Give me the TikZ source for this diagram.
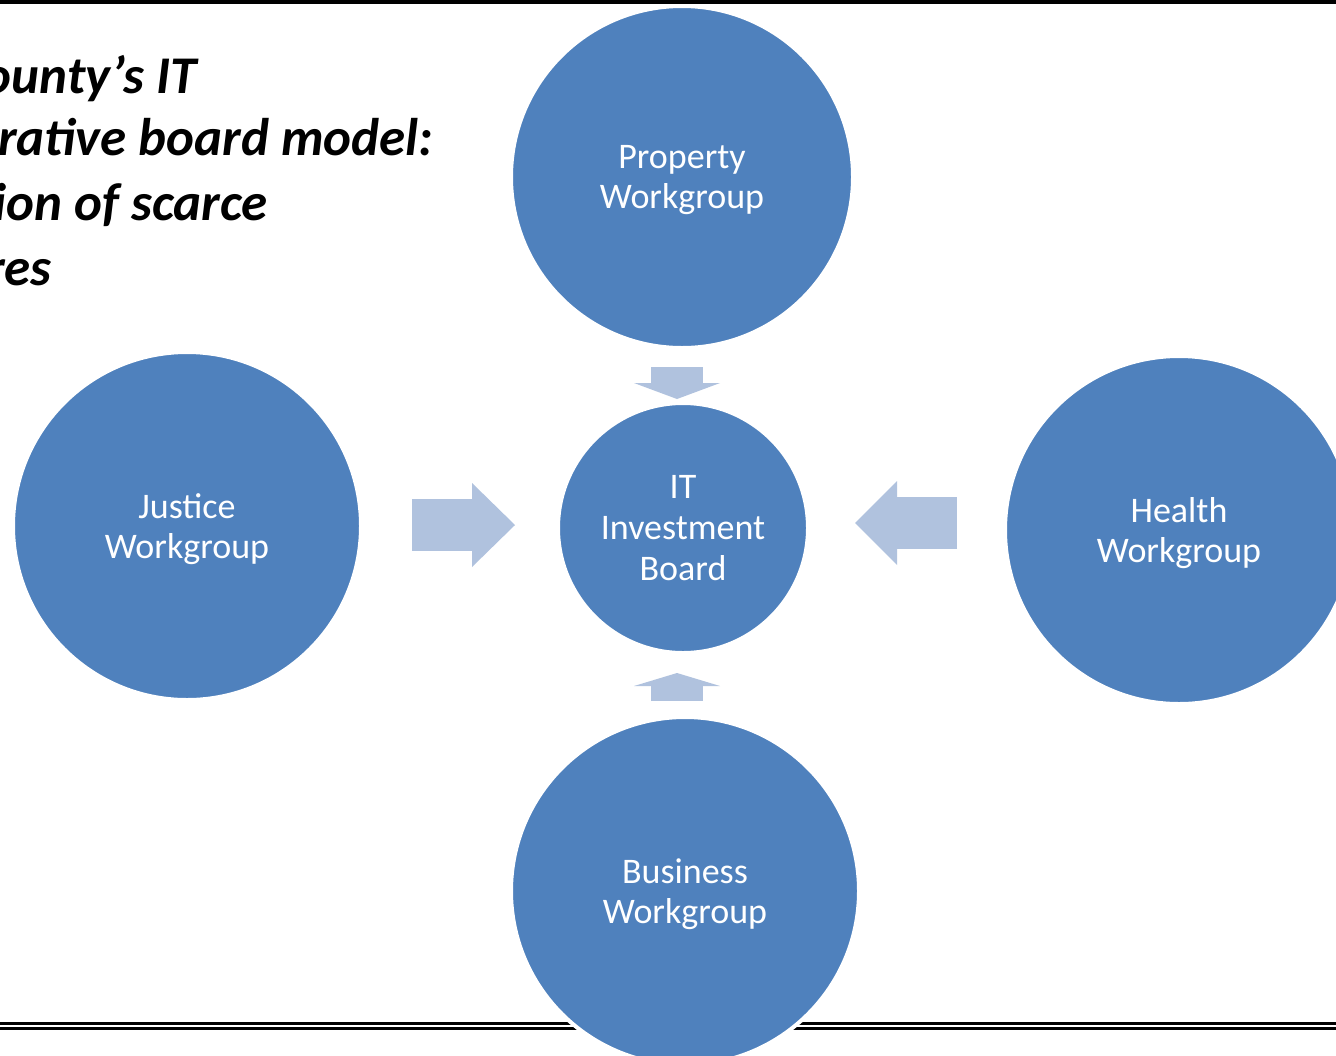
\documentclass[tikz,border=0pt]{standalone}
\usepackage{fontspec}
\setmainfont{Carlito}
\usepackage{xcolor}
\usetikzlibrary{arrows.meta}

\definecolor{wgblue}{RGB}{79,129,189}
\definecolor{arrowblue}{RGB}{176,194,222}

\begin{document}
\begin{tikzpicture}[x=0.5pt, y=-0.5pt,
    workgroup/.style={circle, fill=wgblue, draw=white, line width=2pt, outer sep=0pt, inner sep=0pt,
      text=white, align=center, text depth=0pt, font=\fontsize{18pt}{20.3pt}\selectfont},
    titleline/.style={anchor=base east, inner sep=0pt, font=\fontsize{26.5pt}{32pt}\selectfont\bfseries\itshape},
    bigarrow/.style={draw=arrowblue, line width=26pt}]
  \clip (0,0) rectangle (1336,1055);
  \fill[white] (0,0) rectangle (1336,1055);

  % Borders
  \draw[line width=2pt] (0,2) -- (1336,2);
  \draw[line width=1.25pt] (0,1023.5) -- (1336,1023.5);
  \draw[line width=1.25pt] (0,1028.5) -- (1336,1028.5);

  % Title
  \node[titleline] (title1) at (197,93) {ounty’s IT};
  \node[titleline] (title2) at (434,155) {rative board model:};
  \node[titleline] (title3) at (268,220) {ion of scarce};
  \node[titleline] (title4) at (52,285) {res};

  % Workgroups
  \node[workgroup, minimum size=125pt] (board) at (683,528) {IT\\Investment\\Board};
  \node[workgroup, minimum size=171pt] (property) at (682,177) {Property\\Workgroup};
  \node[workgroup, minimum size=174pt] (justice) at (187,526) {Justice\\Workgroup};
  \node[workgroup, minimum size=174pt] (health) at (1179,530) {Health\\Workgroup};
  \node[workgroup, minimum size=174pt] (business) at (685,891) {Business\\Workgroup};

  % Arrows to the board
  \draw[bigarrow, -{Triangle[width=43pt, length=8pt, line width=0pt]}, shorten <=9.5pt, shorten >=2pt]
    ([xshift=-2.5pt]property.south) -- ([xshift=-3pt]board.north);
  \draw[bigarrow, -{Triangle[width=43pt, length=6.5pt, line width=0pt]}, shorten <=8pt, shorten >=10pt]
    ([xshift=-4pt]business.north) -- ([xshift=-3pt]board.south);
  \draw[bigarrow, -{Triangle[width=42pt, length=21.5pt, line width=0pt]}, shorten <=25.5pt, shorten >=21.5pt]
    ([yshift=0.5pt]justice.east) -- ([yshift=1.5pt]board.west);
  \draw[bigarrow, -{Triangle[width=42pt, length=21pt, line width=0pt]}, shorten <=24pt, shorten >=23.5pt]
    ([yshift=3.5pt]health.west) -- ([yshift=2.5pt]board.east);
\end{tikzpicture}
\end{document}
